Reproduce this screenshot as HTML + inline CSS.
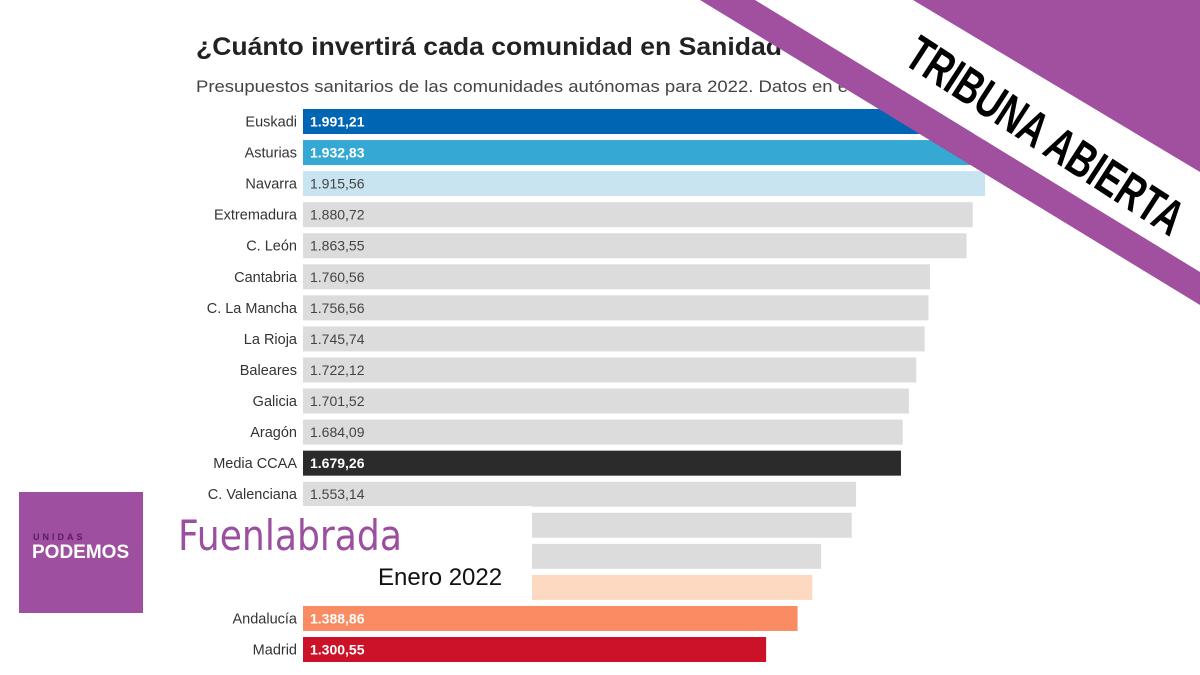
<!DOCTYPE html>
<html><head><meta charset="utf-8"><style>
html,body{margin:0;padding:0;background:#fff;}
body{width:1200px;height:675px;overflow:hidden;position:relative;font-family:"Liberation Sans",sans-serif;}
svg{position:absolute;left:0;top:0;}
</style></head><body>
<svg width="1200" height="675" viewBox="0 0 1200 675">
<text x="196" y="55" font-size="25" font-weight="bold" fill="#222" textLength="586" lengthAdjust="spacingAndGlyphs">¿Cuánto invertirá cada comunidad en Sanidad</text>
<text x="196" y="92" font-size="17" fill="#444" textLength="688" lengthAdjust="spacingAndGlyphs">Presupuestos sanitarios de las comunidades autónomas para 2022. Datos en euros</text>
<g id="bars"></g>
<rect x="160" y="506" width="372" height="97" fill="#fff"/>
<text x="178" y="550" font-size="42" fill="#9b4fa0" font-family="'DejaVu Sans',sans-serif" textLength="224" lengthAdjust="spacingAndGlyphs">Fuenlabrada</text>
<text x="378" y="585" font-size="24" fill="#111">Enero 2022</text>
<rect x="19" y="492" width="124" height="121" fill="#9f4fa0"/>
<text x="33" y="540" font-size="9" font-weight="bold" fill="#5a1b5e" letter-spacing="3">UNIDAS</text>
<text x="32" y="558" font-size="19" font-weight="bold" fill="#fff">PODEMOS</text>
<polygon points="755,0 913,0 1200,172 1200,272" fill="#fff"/>
<polygon points="700,0 755,0 1200,272 1200,305" fill="#a14f9f"/>
<polygon points="913,0 1200,0 1200,172" fill="#a14f9f"/>
<text x="0" y="0" font-size="50" font-weight="bold" fill="#000" font-family="'Liberation Sans Narrow','Liberation Sans',sans-serif" text-anchor="middle" textLength="320" lengthAdjust="spacingAndGlyphs" transform="translate(1036,150) rotate(33)">TRIBUNA ABIERTA</text>
</svg>
<script>
const categories=["Euskadi","Asturias","Navarra","Extremadura","C. León","Cantabria","C. La Mancha","La Rioja","Baleares","Galicia","Aragón","Media CCAA","C. Valenciana","","","","Andalucía","Madrid"];
const values=[1991.21,1932.83,1915.56,1880.72,1863.55,1760.56,1756.56,1745.74,1722.12,1701.52,1684.09,1679.26,1553.14,1541,1455,1430,1388.86,1300.55];
const labels=["1.991,21","1.932,83","1.915,56","1.880,72","1.863,55","1.760,56","1.756,56","1.745,74","1.722,12","1.701,52","1.684,09","1.679,26","1.553,14","","","","1.388,86","1.300,55"];
const colors=["#0065b3","#35a8d4","#c8e4f0","#dcdcdc","#dcdcdc","#dcdcdc","#dcdcdc","#dcdcdc","#dcdcdc","#dcdcdc","#dcdcdc","#2b2b2b","#dcdcdc","#dcdcdc","#dcdcdc","#fdd9c2","#fa8c63","#cc1229"];
const x=v=>303+v*0.3561;
const y=i=>109+i*31.06;
const NS="http://www.w3.org/2000/svg";
const g=document.getElementById('bars');
categories.forEach((c,i)=>{
  const r=document.createElementNS(NS,'rect');
  r.setAttribute('x',x(0));r.setAttribute('y',y(i));
  r.setAttribute('width',x(values[i])-x(0));r.setAttribute('height',25);
  r.setAttribute('fill',colors[i]);
  
  
  g.appendChild(r);
  const t=document.createElementNS(NS,'text');
  t.setAttribute('x',297);t.setAttribute('y',y(i)+17.5);
  t.setAttribute('text-anchor','end');t.setAttribute('font-size','14.5');t.setAttribute('fill','#333');
  t.textContent=c;
  
  
  g.appendChild(t);
  const v=document.createElementNS(NS,'text');
  const dark=["#0065b3","#35a8d4","#2b2b2b","#fa8c63","#cc1229"].includes(colors[i]);
  v.setAttribute('x',310);v.setAttribute('y',y(i)+17.5);v.setAttribute('font-size','14');
  v.setAttribute('fill',dark?'#fff':'#444');
  if(dark)v.setAttribute('font-weight','bold');
  v.textContent=labels[i];
  
  
  g.appendChild(v);
});
</script>
</body></html>
